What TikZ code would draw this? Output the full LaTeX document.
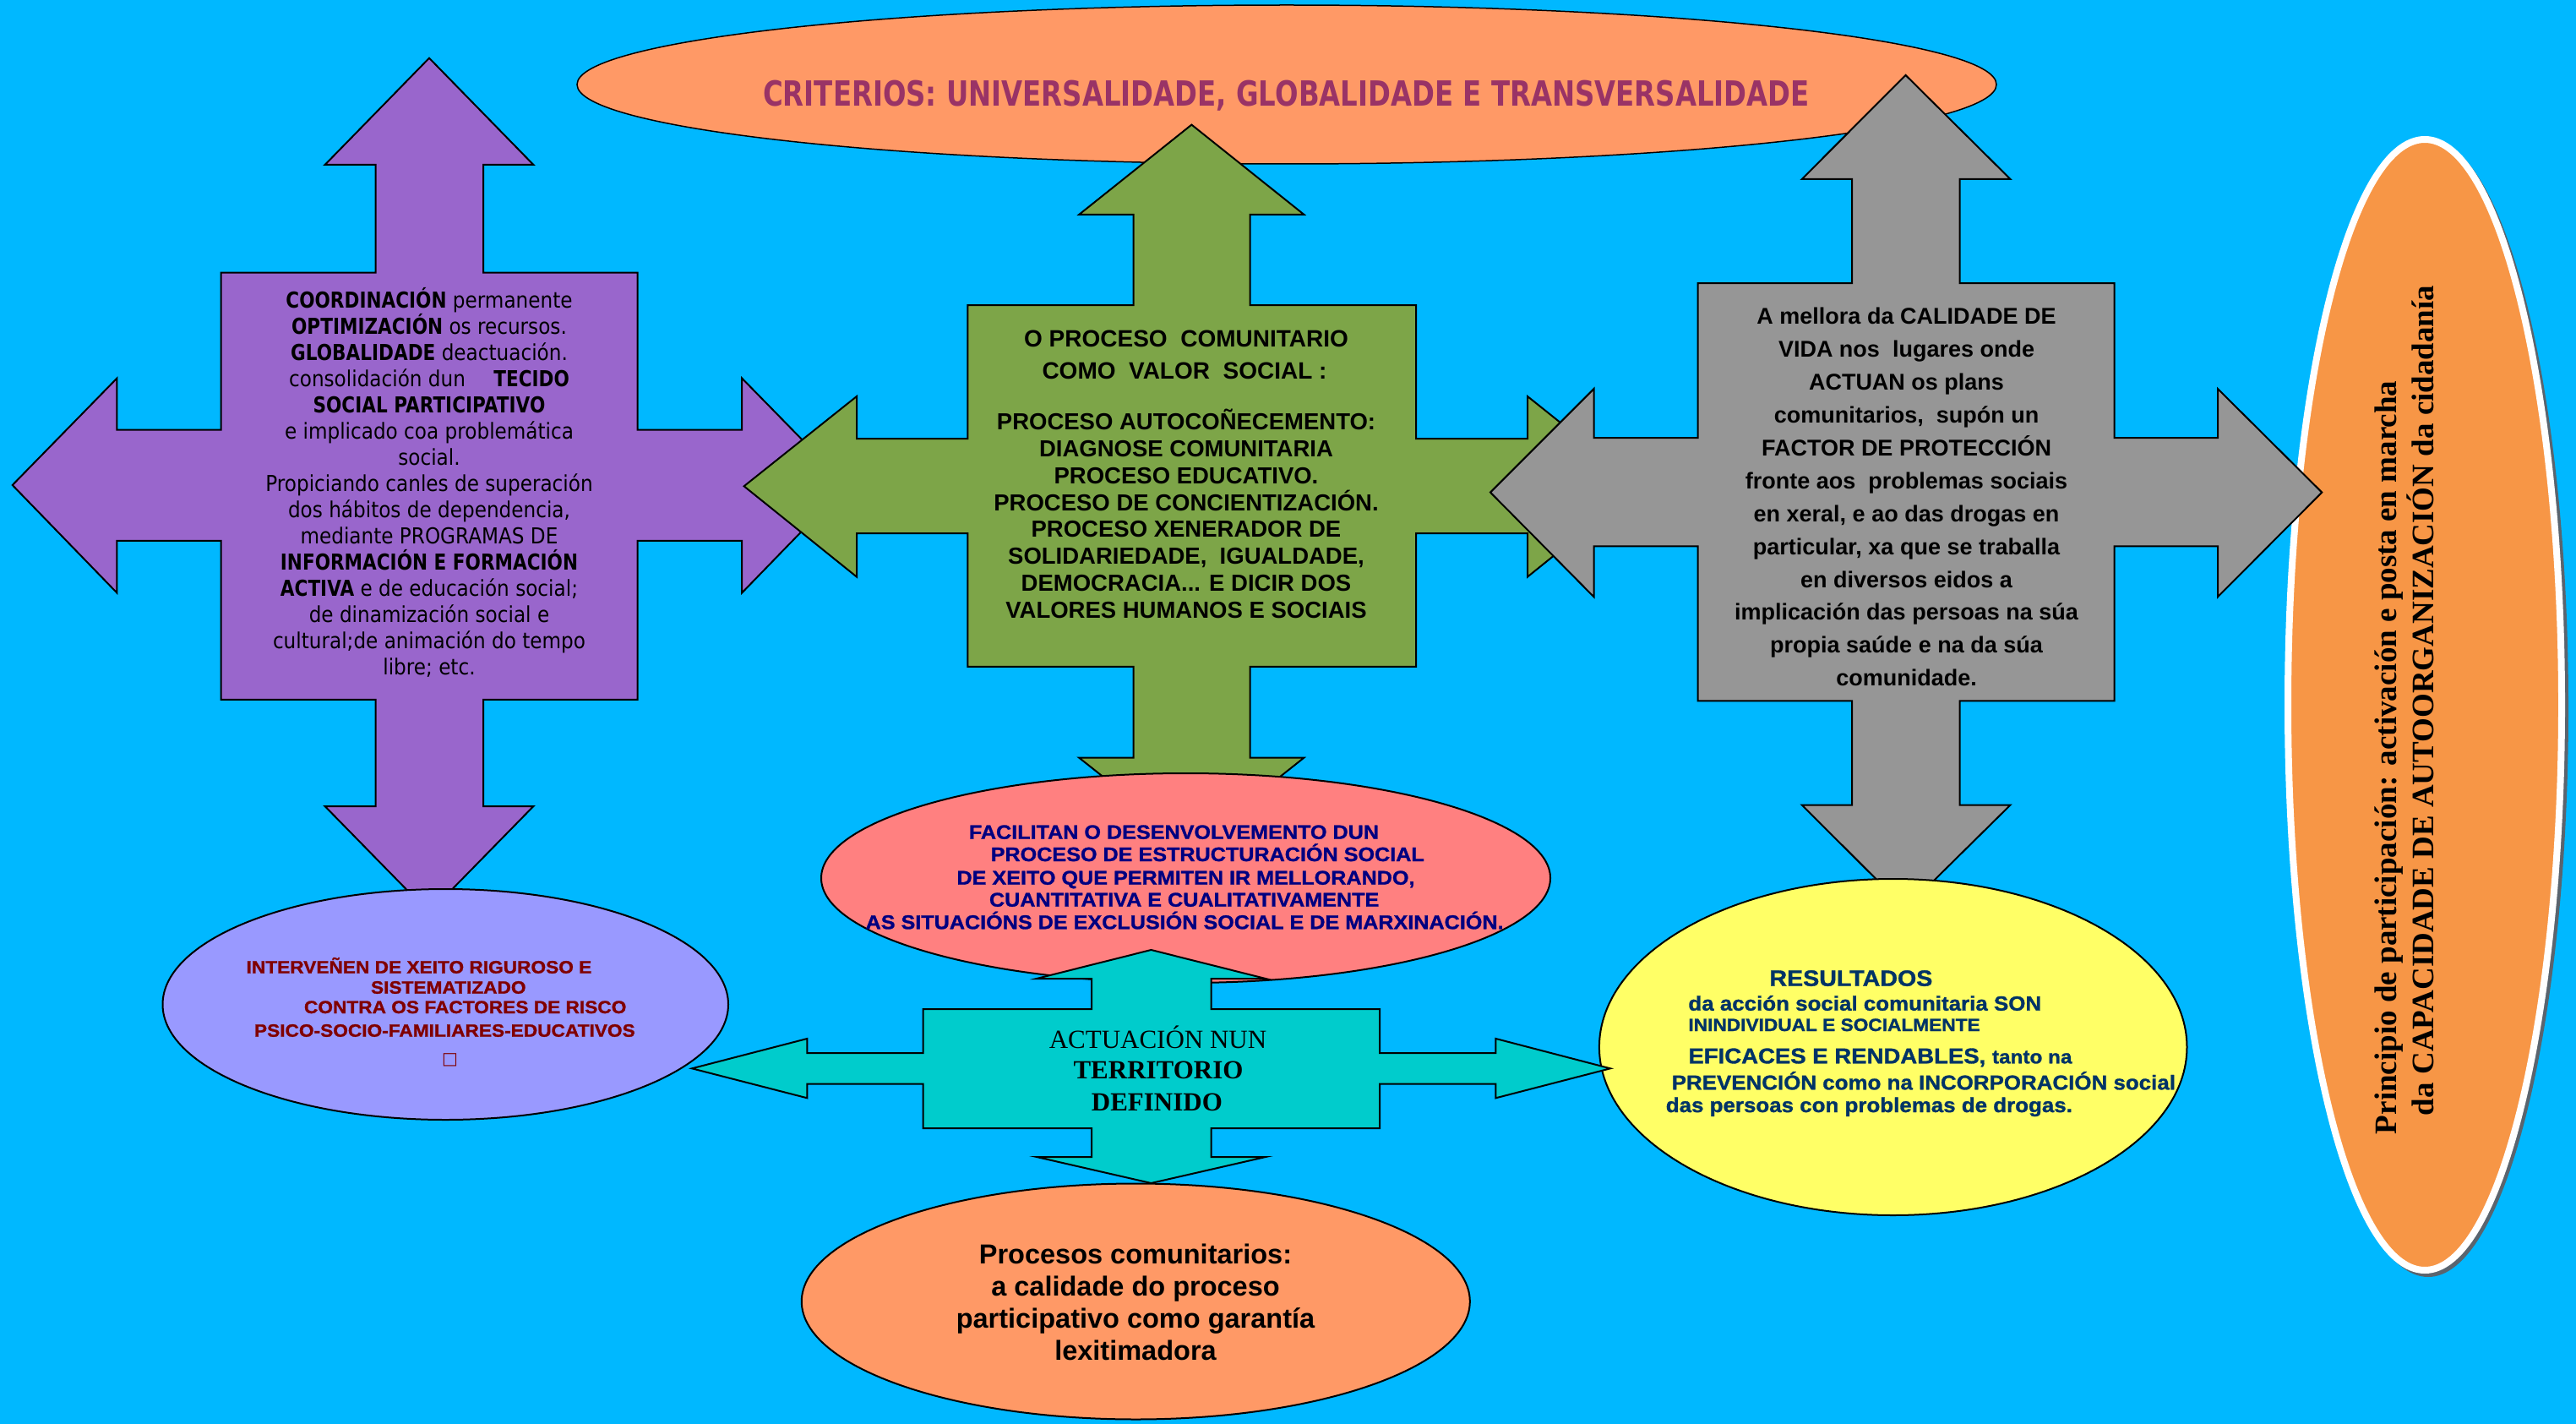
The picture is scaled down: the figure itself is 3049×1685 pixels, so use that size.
\documentclass[tikz,border=0pt]{standalone}
\usepackage{fontspec}
\setmainfont{Liberation Sans}
\newfontfamily\tahoma{DejaVu Sans}[FakeStretch=0.89]
\newfontfamily\tahomab{DejaVu Sans}[FakeStretch=0.83]
\newfontfamily\titlef{DejaVu Sans}[FakeStretch=0.79]
\newfontfamily\arialf{Liberation Sans}
\newfontfamily\futf{Liberation Sans}[FakeStretch=1.08, FakeBold=1.2]
\newfontfamily\timesf{Liberation Serif}
\newfontfamily\symf{DejaVu Sans}
\definecolor{bg}{RGB}{0,184,255}
\definecolor{peach}{RGB}{255,153,102}
\definecolor{titlec}{RGB}{153,51,102}
\definecolor{purp}{RGB}{153,102,204}
\definecolor{olive}{RGB}{125,165,72}
\definecolor{greyc}{RGB}{150,150,150}
\definecolor{orangec}{RGB}{247,150,70}
\definecolor{lav}{RGB}{153,153,255}
\definecolor{pinkc}{RGB}{255,128,128}
\definecolor{yel}{RGB}{255,255,102}
\definecolor{cyanc}{RGB}{0,204,204}
\definecolor{navyc}{RGB}{0,0,128}
\definecolor{navyb}{RGB}{0,51,102}
\definecolor{maroonc}{RGB}{128,0,0}
\definecolor{shadowc}{RGB}{90,100,110}
\tikzset{
  shapeline/.style={draw=black, line width=2pt, line join=miter},
  ln/.style={anchor=base, inner sep=0pt, outer sep=0pt},
  lnw/.style={anchor=base west, inner sep=0pt, outer sep=0pt},
  purpfont/.style={font=\tahoma\fontsize{26}{31}\selectfont},
  greenhead/.style={font=\arialf\bfseries\fontsize{28}{32}\selectfont},
  greenbody/.style={font=\arialf\bfseries\fontsize{27.5}{32}\selectfont},
  greyfont/.style={font=\arialf\bfseries\fontsize{27}{39}\selectfont},
  lavfont/.style={font=\futf\bfseries\fontsize{21}{24}\selectfont, text=maroonc},
  pinkfont/.style={font=\futf\bfseries\fontsize{23.3}{26}\selectfont, text=navyc},
  yelfont/.style={text=navyb},
}
\newcommand{\tb}[1]{{\tahomab\bfseries #1}}
\begin{document}
\begin{tikzpicture}[x=1pt,y=-1pt]
\fill[bg] (0,0) rectangle (3049,1685);
\useasboundingbox (0,0) rectangle (3049,1685);

% top ellipse
\draw[shapeline, line width=1.5pt, fill=peach] (1523,100) ellipse [x radius=840, y radius=94];
\node[ln, font=\titlef\bfseries\fontsize{41}{48}\selectfont, text=titlec] (title) at (1522.5,126)
  {CRITERIOS: UNIVERSALIDADE, GLOBALIDADE E TRANSVERSALIDADE};

% right ellipse
\fill[shadowc] (2874,838) ellipse [x radius=166, y radius=673];
\draw[white, line width=8pt, fill=orangec] (2870,834) ellipse [x radius=162, y radius=669];
\node[lnw, rotate=90, font=\timesf\bfseries\fontsize{37}{44}\selectfont] (r1) at (2836,1342)
  {Principio de participación: activación e posta en marcha};
\node[lnw, rotate=90, font=\timesf\bfseries\fontsize{37}{44}\selectfont] (r2) at (2880,1320)
  {da CAPACIDADE DE AUTOORGANIZACIÓN da cidadanía};

% purple cross
\draw[shapeline, fill=purp] (508,68.7) -- (631.4,195) -- (572,195) -- (572,322.7) -- (754.5,322.7) -- (754.5,508.6) -- (878.2,508.6) -- (878.2,447.6) -- (1002,574) -- (878.2,701.5) -- (878.2,639.8) -- (754.5,639.8) -- (754.5,827.8) -- (572,827.8) -- (572,954) -- (631.4,954) -- (508,1080) -- (384.6,954) -- (444.5,954) -- (444.5,827.8) -- (261.5,827.8) -- (261.5,639.8) -- (138.4,639.8) -- (138.4,701.5) -- (14.7,574) -- (138.4,447.6) -- (138.4,508.6) -- (261.5,508.6) -- (261.5,322.7) -- (444.5,322.7) -- (444.5,195) -- (384.6,195) -- cycle;
\foreach \t [count=\i] in {
  {\tb{COORDINACIÓN} permanente},
  {\tb{OPTIMIZACIÓN} os recursos.},
  {\tb{GLOBALIDADE} deactuación.},
  {consolidación dun\quad\ \tb{TECIDO}},
  {\tb{SOCIAL PARTICIPATIVO}},
  {e implicado coa problemática},
  {social.},
  {Propiciando canles de superación},
  {dos hábitos de dependencia,},
  {mediante PROGRAMAS DE},
  {\tb{INFORMACIÓN E FORMACIÓN}},
  {\tb{ACTIVA} e de educación social;},
  {de dinamización social e},
  {cultural;de animación do tempo},
  {libre; etc.}}
  \node[ln, purpfont] (p\i) at (508,{364.9+30.94*(\i-1)}) {\t};

% green cross
\draw[shapeline, fill=olive] (1410.4,147.6) -- (1543.3,253.8) -- (1479.5,253.8) -- (1479.5,361.2) -- (1676,361.2) -- (1676,519) -- (1808,519) -- (1808,469) -- (1941,575.3) -- (1808,682.6) -- (1808,631) -- (1676,631) -- (1676,788.8) -- (1479.5,788.8) -- (1479.5,896.7) -- (1543.3,896.7) -- (1410.4,1002) -- (1277.3,896.7) -- (1341.7,896.7) -- (1341.7,788.8) -- (1145.3,788.8) -- (1145.3,631) -- (1014,631) -- (1014,682.6) -- (880.6,575.3) -- (1014,469) -- (1014,519) -- (1145.3,519) -- (1145.3,361.2) -- (1341.7,361.2) -- (1341.7,253.8) -- (1277.3,253.8) -- cycle;
\node[ln, greenhead] (g1) at (1404,410) {O PROCESO\ \ COMUNITARIO};
\node[ln, greenhead] (g2) at (1402,448.3) {COMO\ \ VALOR\ \ SOCIAL :};
\node[ln, greenbody] (gb1) at (1404,508.3) {PROCESO AUTOCOÑECEMENTO:};
\node[ln, greenbody] (gb2) at (1404,540.2) {DIAGNOSE COMUNITARIA};
\node[ln, greenbody] (gb3) at (1404,572.1) {PROCESO EDUCATIVO.};
\node[ln, greenbody] (gb4) at (1404,604.0) {PROCESO DE CONCIENTIZACIÓN.};
\node[ln, greenbody] (gb5) at (1404,635.9) {PROCESO XENERADOR DE};
\node[ln, greenbody] (gb6) at (1404,667.9) {SOLIDARIEDADE,\ \ IGUALDADE,};
\node[ln, greenbody] (gb7) at (1404,699.8) {DEMOCRACIA... E DICIR DOS};
\node[ln, greenbody] (gb8) at (1404,731.7) {VALORES HUMANOS E SOCIAIS};

% grey cross
\draw[shapeline, fill=greyc] (2255.5,88.9) -- (2379.5,212) -- (2319.6,212) -- (2319.6,335.1) -- (2502.6,335.1) -- (2502.6,518.2) -- (2625,518.2) -- (2625,460.1) -- (2748.2,582.6) -- (2625,706.3) -- (2625,646.4) -- (2502.6,646.4) -- (2502.6,829.4) -- (2319.6,829.4) -- (2319.6,952.5) -- (2379.5,952.5) -- (2255.5,1075) -- (2132.7,952.5) -- (2192,952.5) -- (2192,829.4) -- (2009.6,829.4) -- (2009.6,646.4) -- (1886.5,646.4) -- (1886.5,706.3) -- (1764,582.6) -- (1886.5,460.1) -- (1886.5,518.2) -- (2009.6,518.2) -- (2009.6,335.1) -- (2192,335.1) -- (2192,212) -- (2132.7,212) -- cycle;
\begin{scope}
\clip (2000,330) rectangle (2510,813);
\foreach \t [count=\i] in {
  {A mellora da CALIDADE DE},
  {VIDA nos\ \ lugares onde},
  {ACTUAN os plans},
  {comunitarios,\ \ supón un},
  {FACTOR DE PROTECCIÓN},
  {fronte aos\ \ problemas sociais},
  {en xeral, e ao das drogas en},
  {particular, xa que se traballa},
  {en diversos eidos a},
  {implicación das persoas na súa},
  {propia saúde e na da súa},
  {comunidade.}}
  \node[ln, greyfont] (gr\i) at (2256.5,{384+38.88*(\i-1)}) {\t};
\end{scope}

% lavender ellipse
\draw[shapeline, fill=lav] (527.25,1188.5) ellipse [x radius=334.75, y radius=136.5];
\node[lnw, lavfont] (l1) at (291.6,1151.7) {INTERVEÑEN DE XEITO RIGUROSO E};
\node[lnw, lavfont] (l2) at (439,1175.7) {SISTEMATIZADO};
\node[lnw, lavfont] (l3) at (360,1199) {CONTRA OS FACTORES DE RISCO};
\node[lnw, lavfont] (l4) at (301,1226.7) {PSICO-SOCIO-FAMILIARES-EDUCATIVOS};
\node[inner sep=0pt, text=maroonc, font=\symf\fontsize{20}{24}\selectfont] (l5) at (532.6,1254) {□};

% pink ellipse
\draw[shapeline, fill=pinkc] (1403.5,1039) ellipse [x radius=431.5, y radius=124];
\node[lnw, pinkfont] (k1) at (1146.9,992.7) {FACILITAN O DESENVOLVEMENTO DUN};
\node[lnw, pinkfont] (k2) at (1172.7,1019) {PROCESO DE ESTRUCTURACIÓN SOCIAL};
\node[lnw, pinkfont] (k3) at (1132.5,1046.7) {DE XEITO QUE PERMITEN IR MELLORANDO,};
\node[lnw, pinkfont] (k4) at (1171,1072.7) {CUANTITATIVA E CUALITATIVAMENTE};
\node[lnw, pinkfont] (k5) at (1024.6,1099.3) {AS SITUACIÓNS DE EXCLUSIÓN SOCIAL E DE MARXINACIÓN.};

% yellow ellipse
\draw[shapeline, fill=yel] (2240.7,1239) ellipse [x radius=347.8, y radius=199];
\node[lnw, yelfont, font=\futf\bfseries\fontsize{26.5}{30}\selectfont] (y1) at (2094.4,1166.7) {RESULTADOS};
\node[lnw, yelfont, font=\futf\bfseries\fontsize{24}{28}\selectfont] (y2) at (1998.4,1195.7) {da acción social comunitaria SON};
\node[lnw, yelfont, font=\futf\bfseries\fontsize{21}{24}\selectfont] (y3) at (1998.4,1220) {ININDIVIDUAL E SOCIALMENTE};
\node[lnw, yelfont, font=\futf\bfseries\fontsize{25.5}{30}\selectfont] (y4) at (1998.4,1258.3) {EFICACES E RENDABLES, {\fontsize{22.5}{26}\selectfont tanto na}};
\node[lnw, yelfont, font=\futf\bfseries\fontsize{24}{28}\selectfont] (y5) at (1978.7,1289.3) {PREVENCIÓN como na INCORPORACIÓN social};
\node[lnw, yelfont, font=\futf\bfseries\fontsize{24}{28}\selectfont] (y6) at (1971.8,1316) {das persoas con problemas de drogas.};

% bottom ellipse
\draw[shapeline, fill=peach] (1344.3,1540) ellipse [x radius=395.5, y radius=139.5];
\node[ln, font=\arialf\bfseries\fontsize{32.5}{38}\selectfont] (b1) at (1344,1495) {Procesos comunitarios:};
\node[ln, font=\arialf\bfseries\fontsize{32.5}{38}\selectfont] (b2) at (1344,1533.3) {a calidade do proceso};
\node[ln, font=\arialf\bfseries\fontsize{32.5}{38}\selectfont] (b3) at (1344,1571.6) {participativo como garantía};
\node[ln, font=\arialf\bfseries\fontsize{32.5}{38}\selectfont] (b4) at (1344,1609.9) {lexitimadora};

% cyan cross
\draw[shapeline, fill=cyanc] (1362.5,1124) -- (1498,1158) -- (1433.7,1158) -- (1433.7,1194) -- (1633,1194) -- (1633,1246) -- (1770.4,1246) -- (1770.4,1229) -- (1906,1264.3) -- (1770.4,1299.3) -- (1770.4,1282.7) -- (1633,1282.7) -- (1633,1335) -- (1433.7,1335) -- (1433.7,1369) -- (1498,1369) -- (1362.5,1400) -- (1227,1369) -- (1292,1369) -- (1292,1335) -- (1092.5,1335) -- (1092.5,1282.7) -- (955.4,1282.7) -- (955.4,1299.3) -- (819,1264.3) -- (955.4,1229) -- (955.4,1246) -- (1092.5,1246) -- (1092.5,1194) -- (1292,1194) -- (1292,1158) -- (1227,1158) -- cycle;
\node[ln, font=\timesf\fontsize{31}{37}\selectfont] (c1) at (1370.5,1240.7) {ACTUACIÓN NUN};
\node[ln, font=\timesf\bfseries\fontsize{31}{37}\selectfont] (c2) at (1371,1276.7) {TERRITORIO};
\node[ln, font=\timesf\bfseries\fontsize{31}{37}\selectfont] (c3) at (1369.4,1314.3) {DEFINIDO};
\end{tikzpicture}
\end{document}
